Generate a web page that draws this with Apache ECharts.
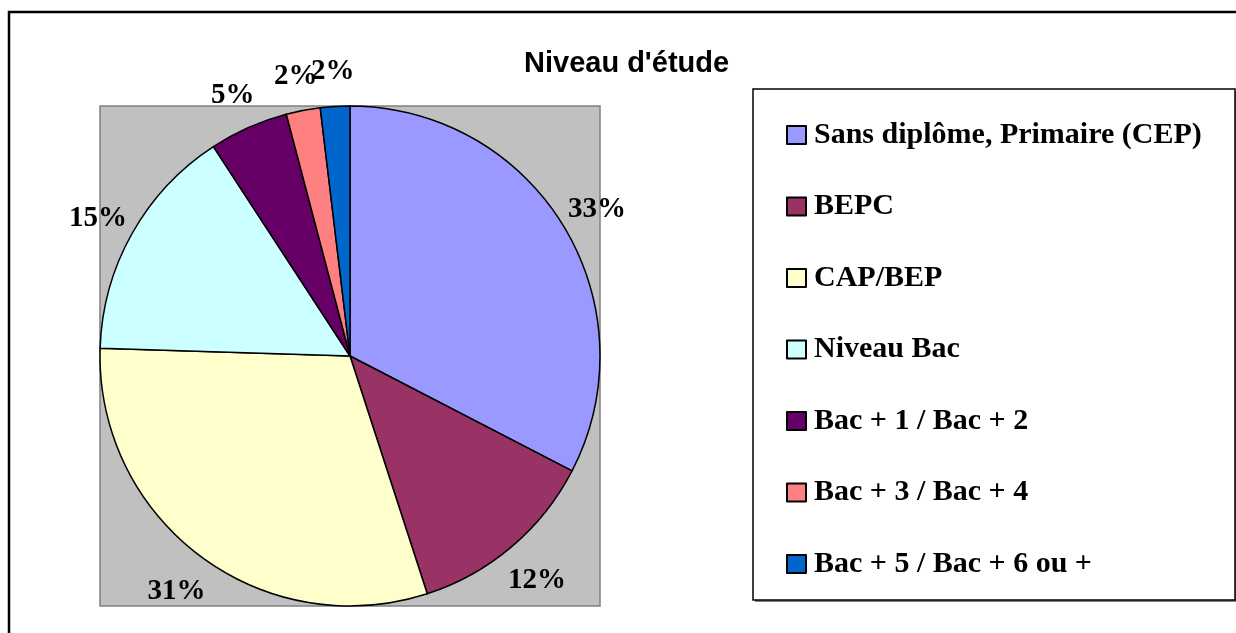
<!DOCTYPE html>
<html><head><meta charset="utf-8">
<script src="https://cdn.jsdelivr.net/npm/echarts@6/dist/echarts.min.js"></script>
<style>html,body{margin:0;padding:0;background:#fff}#c{width:1236px;height:633px}</style>
</head><body><div id="c"></div>
<script>
const titleText = "Niveau d'étude";
const categories = ['Sans diplôme, Primaire (CEP)', 'BEPC', 'CAP/BEP', 'Niveau Bac', 'Bac + 1 / Bac + 2', 'Bac + 3 / Bac + 4', 'Bac + 5 / Bac + 6 ou +'];
const values = [32.6, 12.4, 30.5, 15.3, 5.1, 2.2, 1.9];
const colors = ['#9999FF', '#993366', '#FFFFCC', '#CCFFFF', '#660066', '#FF8080', '#0066CC'];

const cx = 350, cy = 356, R = 250;
const data = categories.map((n, i) => ({ name: n, value: values[i], itemStyle: { color: colors[i] } }));
const serif = 'Liberation Serif, Times New Roman, serif';

const chart = echarts.init(document.getElementById('c'));
chart.setOption({
  animation: false,
  backgroundColor: '#fff',
  title: {
    text: titleText, left: 524, top: 49, padding: 0,
    textStyle: { fontFamily: 'Liberation Sans, Arial, sans-serif', fontWeight: 'bold', fontSize: 29, color: '#000' }
  },
  graphic: [
    { type: 'rect', z: -10, shape: { x: 9, y: 12, width: 1240, height: 640 }, style: { fill: '#fff', stroke: '#000', lineWidth: 2.5 } },
    { type: 'rect', z: -5, shape: { x: cx - R, y: cy - R, width: 2 * R, height: 2 * R }, style: { fill: '#C0C0C0', stroke: '#808080', lineWidth: 1.5 } },
    { type: 'rect', z: -6, shape: { x: 755, y: 91, width: 482, height: 511 }, style: { fill: '#808080' } },
    { type: 'rect', z: -5, shape: { x: 753, y: 89, width: 482, height: 511 }, style: { fill: '#fff', stroke: '#000', lineWidth: 1.5 } }
  ],
  legend: {
    orient: 'vertical', left: 786, top: 120, padding: 0,
    itemWidth: 19, itemHeight: 18, itemGap: 41.5,
    icon: 'rect',
    selectedMode: false,
    data: categories,
    textStyle: { fontFamily: serif, fontWeight: 'bold', fontSize: 30, lineHeight: 30, color: '#000', padding: [0, 0, 0, 3] }
  },
  series: [
    {
      type: 'pie', center: [cx, cy], radius: R, startAngle: 90, clockwise: true,
      data: data, label: { show: false }, labelLine: { show: false },
      itemStyle: { borderColor: '#000', borderWidth: 1.5 },
      emphasis: { disabled: true }, silent: true
    },
    {
      type: 'pie', center: [cx, cy], radius: [R, R + 72], startAngle: 90, clockwise: true,
      percentPrecision: 0, avoidLabelOverlap: false,
      data: categories.map((n, i) => ({ name: n, value: values[i] })),
      itemStyle: { color: 'rgba(0,0,0,0)', borderWidth: 0 },
      label: { show: true, position: 'inside', offset: [0, 4], formatter: '{d}%', fontFamily: serif, fontWeight: 'bold', fontSize: 29, color: '#000' },
      labelLayout: { hideOverlap: false },
      labelLine: { show: false },
      emphasis: { disabled: true }, silent: true
    }
  ]
});
</script></body></html>
